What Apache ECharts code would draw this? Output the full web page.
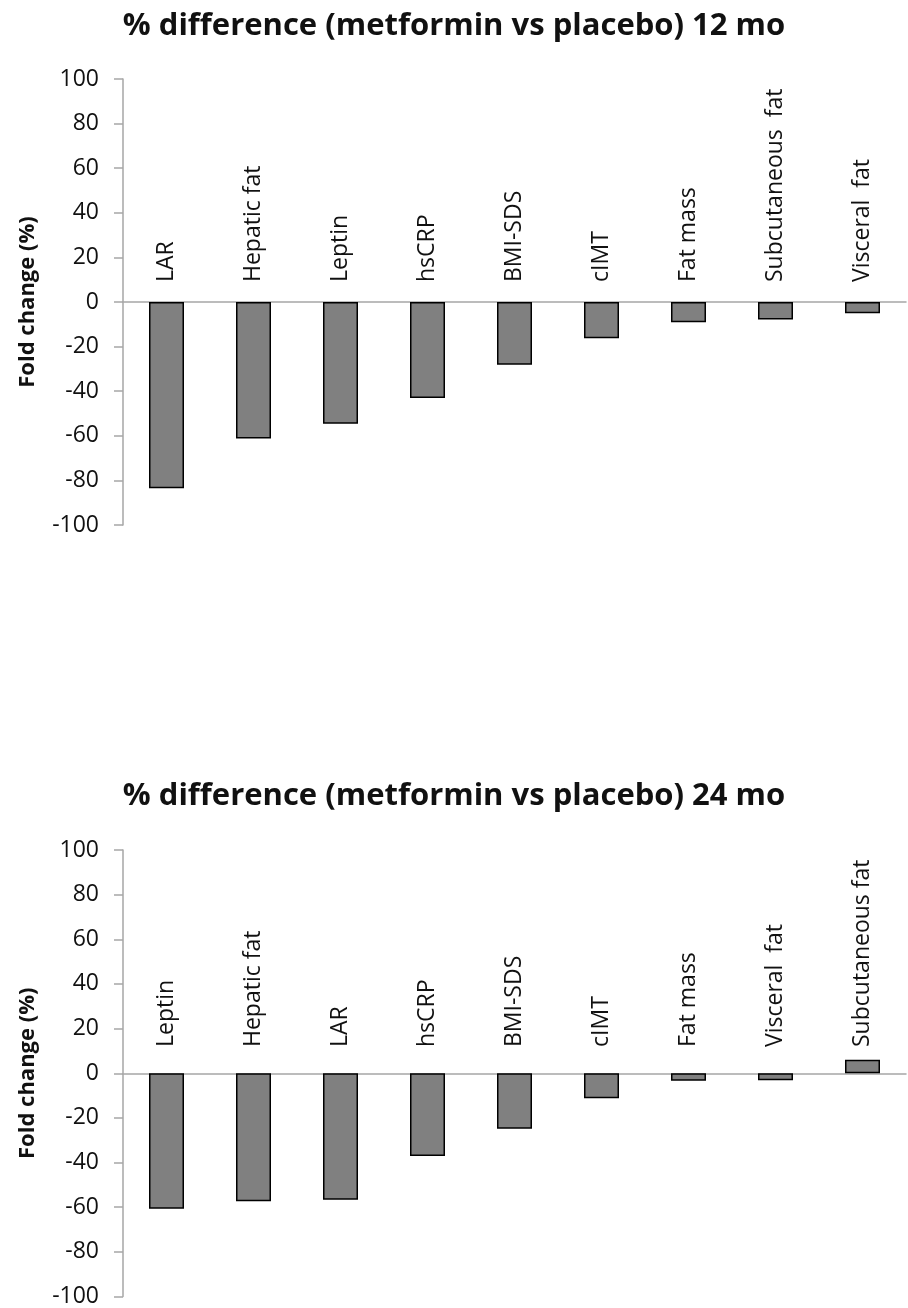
<!DOCTYPE html>
<html>
<head>
<meta charset="utf-8">
<script src="https://cdn.jsdelivr.net/npm/echarts@6/dist/echarts.min.js"></script>
<style>
  html, body { margin: 0; padding: 0; background: #fff; }
  #chart { width: 908px; height: 1308px; }
</style>
</head>
<body>
<div id="chart"></div>
<script>
// 12 month panel
const cats12 = ['LAR', 'Hepatic fat', 'Leptin', 'hsCRP', 'BMI-SDS', 'cIMT', 'Fat mass', 'Subcutaneous  fat', 'Visceral  fat']
const vals12 = [-83.5, -61.2, -54.6, -43.1, -28.1, -16.2, -9.1, -7.9, -5.1]

// 24 month panel
const cats24 = ['Leptin', 'Hepatic fat', 'LAR', 'hsCRP', 'BMI-SDS', 'cIMT', 'Fat mass', 'Visceral  fat', 'Subcutaneous fat']
const vals24 = [-60.7, -57.3, -56.7, -37.1, -24.9, -11.2, -3.4, -3.1, 6.1]

const titles = ['% difference (metformin vs placebo) 12 mo', '% difference (metformin vs placebo) 24 mo']
const yName = 'Fold change (%)'
const yMin = -100
const yMax = 100
const yStep = 20

const FONT = '"Open Sans", sans-serif'
const axisGrey = '#a6a6a6'

const grids = [
  { left: 123, top: 79, width: 783, height: 446 },
  { left: 123, top: 850, width: 783, height: 448 }
]

// main x axis: the grey zero line, no labels
const makeX = (gridIndex, data) => ({
  type: 'category',
  gridIndex,
  data,
  position: 'bottom',
  axisLine: { onZero: true, lineStyle: { color: axisGrey, width: 1.5 } },
  axisTick: { show: false },
  axisLabel: { show: false }
})

// label axis: sits on the zero line, labels read upward from it
const makeLabelX = (gridIndex, data, margin) => ({
  type: 'category',
  gridIndex,
  data,
  position: 'top',
  offset: -grids[gridIndex].height * yMax / (yMax - yMin),
  axisLine: { show: false },
  axisTick: { show: false },
  axisLabel: {
    rotate: -90,
    align: 'left',
    verticalAlign: 'middle',
    margin,
    interval: 0,
    fontFamily: FONT,
    fontSize: 23,
    color: '#111'
  }
})

const makeY = (gridIndex) => ({
  type: 'value',
  gridIndex,
  min: yMin,
  max: yMax,
  interval: yStep,
  name: yName,
  nameLocation: 'middle',
  nameRotate: 90,
  nameGap: 84,
  nameTextStyle: { fontFamily: FONT, fontSize: 22, fontWeight: 'bold', color: '#111' },
  splitLine: { show: false },
  axisLine: { show: true, lineStyle: { color: axisGrey, width: 1.5 } },
  axisTick: { show: true, length: 9, lineStyle: { color: axisGrey, width: 1.5 } },
  axisLabel: { margin: 24, fontFamily: FONT, fontSize: 23, color: '#111' }
})

const barStyle = {
  color: '#808080',
  borderColor: '#000',
  borderWidth: 1.5
}

const titleStyle = { fontFamily: FONT, fontSize: 31, fontWeight: 'bold', color: '#111' }

const chart = echarts.init(document.getElementById('chart'), null, { renderer: 'canvas' })
chart.setOption({
  animation: false,
  backgroundColor: '#fff',
  title: [
    { text: titles[0], left: 'center', top: 6, textStyle: titleStyle },
    { text: titles[1], left: 'center', top: 776, textStyle: titleStyle }
  ],
  grid: grids,
  xAxis: [makeX(0, cats12), makeX(1, cats24), makeLabelX(0, cats12, 20), makeLabelX(1, cats24, 27)],
  yAxis: [makeY(0), makeY(1)],
  series: [
    {
      type: 'bar',
      xAxisIndex: 0,
      yAxisIndex: 0,
      data: vals12,
      barWidth: 35,
      itemStyle: barStyle
    },
    {
      type: 'bar',
      xAxisIndex: 1,
      yAxisIndex: 1,
      data: vals24,
      barWidth: 35,
      itemStyle: barStyle
    }
  ]
})
</script>
</body>
</html>
